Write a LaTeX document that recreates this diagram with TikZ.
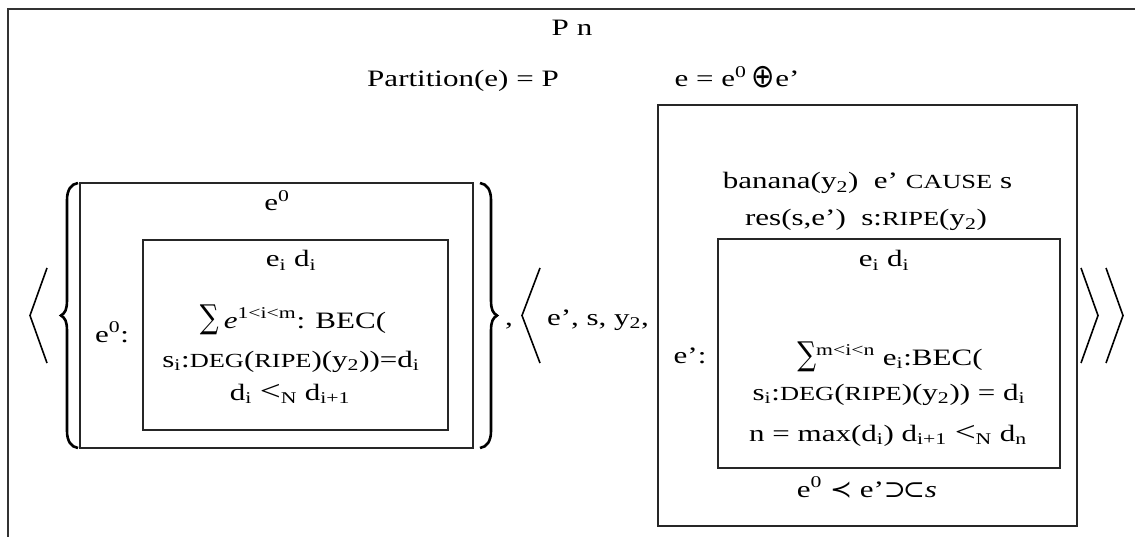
\documentclass[tikz,border=0pt]{standalone}
\usepackage{fontspec}
\setmainfont{Liberation Serif}
\newfontfamily\symf{DejaVu Serif}
\newfontfamily\symsf{DejaVu Sans}
\newcommand\smc[1]{{\fontsize{20}{20}\selectfont #1}}
\newcommand\sx[1]{\scalebox{1.32}[1]{#1}}
\newcommand\lessN{\scalebox{1.2}{<}\textsubscript{N}}
\newcommand\bigsum{\raisebox{-1pt}{\scalebox{0.85}[1.4]{\symf ∑}}}
\newcommand\bigplus{\raisebox{-1pt}{\scalebox{0.9}[1.4]{\symsf ⊕}}}
\newcommand\precsym{\scalebox{0.85}[1]{\symsf ≺}}
\newcommand\supsub{\scalebox{0.85}[1]{\symf ⊃\kern-0.12em⊂}}
\begin{document}
\begin{tikzpicture}[x=1pt,y=-1pt,
  txt/.style={font=\fontsize{23.5}{28}\selectfont, inner sep=0pt, anchor=base},
  boxn/.style={draw=black!85, line width=1.3pt, inner sep=0pt},
  frameline/.style={draw=black!80, line width=1.5pt},
  brk/.style={line width=1.6pt, line join=miter},
  brace/.style={line width=2.6pt}]
\useasboundingbox (0,0) rectangle (1135,537);
% outer frame (top and left only)
\coordinate (fbl) at (8,537);
\coordinate (ftl) at (8,9);
\coordinate (ftr) at (1135,9);
\draw[frameline] (fbl) -- (ftl) -- (ftr);

% header texts
\node[txt] (pn) at (572,36) {\sx{P n}};
\node[txt] (part) at (463,87) {\sx{Partition(e) = P}};
\node[txt] (eq) at (737,87) {\sx{e = e\textsuperscript{0}\,\bigplus e’}};

% left boxes
\node[boxn, minimum width=393pt, minimum height=265pt] (Lout) at (276.5,315.5) {};
\node[boxn, minimum width=305pt, minimum height=190pt] (Lin) at (295.5,335) {};
\node[txt] (Le0) at (277,211) {\sx{e\textsuperscript{0}}};
\node[txt] (Lei) at (291,267) {\sx{e\textsubscript{i} d\textsubscript{i}}};
\node[txt] (Lsum) at (293,328) {\sx{\bigsum\,\textit{e}\textsuperscript{1<i<m}: BEC(}};
\node[txt] (Ldeg) at (291,367) {\sx{s\textsubscript{i}:\smc{DEG}(\smc{RIPE})(y\textsubscript{2}))=d\textsubscript{i}}};
\node[txt] (Lless) at (290,400) {\sx{d\textsubscript{i} \lessN{} d\textsubscript{i+1}}};
\node[txt] (Llab) at (112,342) {\sx{e\textsuperscript{0}:}};

% left brace
\draw[brace] (78,183) .. controls (71,184) and (67,190) .. (67,200) -- (67,300)
  .. controls (67,310) and (65,313) .. (61,315.5)
  .. controls (65,318) and (67,321) .. (67,331) -- (67,431)
  .. controls (67,441) and (71,447) .. (78,448);
% right brace
\draw[brace] (480,183) .. controls (487,184) and (491,190) .. (491,200) -- (491,300)
  .. controls (491,310) and (493,313) .. (497,315.5)
  .. controls (493,318) and (491,321) .. (491,331) -- (491,431)
  .. controls (491,441) and (487,447) .. (480,448);

% angle brackets
\draw[brk] (47,268) -- (30,315.5) -- (47,363);
\draw[brk] (540,268) -- (522,315.5) -- (540,363);
\draw[brk] (1081,268) -- (1098,315.5) -- (1081,363);
\draw[brk] (1106,268) -- (1123,315.5) -- (1106,363);

\node[txt] (comma) at (509,325) {\sx{,}};
\node[txt] (tuple) at (598,325) {\sx{e’, s, y\textsubscript{2},}};

% right boxes
\node[boxn, minimum width=419pt, minimum height=421pt] (Rout) at (867.5,315.5) {};
\node[boxn, minimum width=342pt, minimum height=229pt] (Rin) at (889,353.5) {};
\node[txt] (Rban) at (867.5,189) {\sx{banana(y\textsubscript{2})\ \ e’ \smc{CAUSE} s}};
\node[txt] (Rres) at (866,226) {\sx{res(s,e’)\ \ s:\smc{RIPE}(y\textsubscript{2})}};
\node[txt] (Rei) at (884,267) {\sx{e\textsubscript{i} d\textsubscript{i}}};
\node[txt] (Rsum) at (890,365) {\sx{\bigsum\textsuperscript{m<i<n} e\textsubscript{i}:BEC(}};
\node[txt] (Rdeg) at (889,400) {\sx{s\textsubscript{i}:\smc{DEG}(\smc{RIPE})(y\textsubscript{2})) = d\textsubscript{i}}};
\node[txt] (Rmax) at (888,441) {\sx{n = max(d\textsubscript{i}) d\textsubscript{i+1} \lessN{} d\textsubscript{n}}};
\node[txt] (Rprec) at (867,497) {\sx{e\textsuperscript{0} \precsym{} e’\supsub\textit{s}}};
\node[txt] (Rlab) at (690,363) {\sx{e’:}};
\end{tikzpicture}
\end{document}
